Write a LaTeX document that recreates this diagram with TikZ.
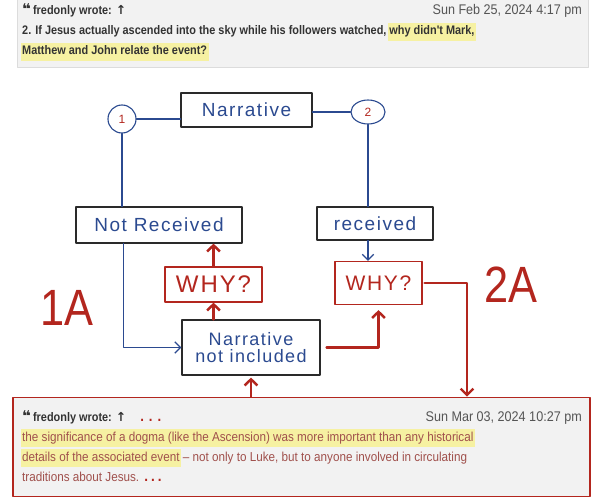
\documentclass[tikz,border=0pt]{standalone}
\usepackage{fontspec}
\setmainfont{Liberation Sans}
\newfontfamily\postfont[FakeStretch=0.88]{Liberation Sans}
\newfontfamily\quotefont[FakeStretch=0.9]{Liberation Sans}
\newfontfamily\symfont{DejaVu Sans}
\newfontfamily\handfont[LetterSpace=8]{Liberation Sans}
\newfontfamily\markfont[FakeStretch=0.85]{Liberation Sans}
\usetikzlibrary{arrows.meta,shapes.geometric}
\definecolor{ink}{HTML}{2B4A90}
\definecolor{pen}{HTML}{B3261E}
\definecolor{boxline}{HTML}{2A2A2A}
\definecolor{panel}{HTML}{F2F2F2}
\definecolor{rim}{HTML}{DCDCDC}
\definecolor{hlyellow}{HTML}{F6F1A2}
\definecolor{posttext}{HTML}{333333}
\definecolor{datetext}{HTML}{555555}
\definecolor{quotetext}{HTML}{A0504C}
\newcommand\hlite[1]{\hspace*{-1.5pt}{\setlength{\fboxsep}{1.5pt}\colorbox{hlyellow}{\strut #1}}\hspace*{-1.5pt}}
\newcommand\quoteicon{{\symfont\bfseries\fontsize{15}{15}\selectfont ❝}}

\begin{document}
\begin{tikzpicture}[x=1pt, y=-1pt, line cap=round, line join=round,
  sketch/.style={draw=boxline, line width=1.1pt, text=ink, font=\handfont\fontsize{19}{19}\selectfont},
  whybox/.style={draw=pen, line width=1.1pt, text=pen, font=\handfont\fontsize{24}{24}\selectfont},
  num/.style={ellipse, draw=ink, line width=1.1pt, text=pen, inner sep=0pt, font=\fontsize{12}{12}\selectfont},
  blueline/.style={draw=ink, line width=1.3pt},
  bluearrow/.style={blueline, -{Straight Barb[length=2mm,width=4mm]}},
  redarrow/.style={draw=pen, line width=2.4pt, -{Straight Barb[length=2.2mm,width=4.5mm]}},
  redmark/.style={text=pen, font=\markfont\fontsize{51}{51}\selectfont},
  boldtxt/.style={anchor=base west, inner sep=0pt, text=posttext, font=\postfont\bfseries\fontsize{12.4}{15}\selectfont},
  posttxt/.style={anchor=base west, inner sep=0pt, text=quotetext, font=\quotefont\fontsize{13}{15}\selectfont},
  postdate/.style={anchor=base east, inner sep=0pt, text=datetext, font=\quotefont\fontsize{14}{15}\selectfont}]
  \useasboundingbox (0,0) rectangle (595,500);
  \fill[white] (0,0) rectangle (595,500);

  % Question post.
  \filldraw[fill=panel, draw=rim, line width=0.6pt] (17,-2) rectangle (588,67);
  \node[boldtxt] (headtop) at (22,15) {\quoteicon\,fredonly wrote: {\symfont ↑}};
  \node[postdate] (datetop) at (582,15) {Sun Feb 25, 2024 4:17 pm};
  \node[boldtxt] (asktop) at (22,35) {2. If Jesus actually ascended into the sky while his followers watched, \hlite{why didn't Mark,}};
  \node[boldtxt] (askbot) at (22,55) {\hlite{Matthew and John relate the event?}};

  % Sketch boxes.
  \node[sketch, minimum width=131pt, minimum height=34pt] (narr) at (246.5,110) {Narrative};
  \node[num, minimum width=28pt, minimum height=28pt] (one) at (122,119) {1};
  \node[num, minimum width=34pt, minimum height=24pt] (two) at (368,112) {2};
  \node[sketch, minimum width=166pt, minimum height=36pt] (norec) at (159,225) {Not Received};
  \node[sketch, minimum width=116pt, minimum height=33pt] (rec) at (375,223.5) {received};
  \node[whybox, minimum width=97pt, minimum height=35pt] (whyl) at (213.5,284.5) {WHY?};
  \node[whybox, minimum width=87pt, minimum height=43pt, font=\handfont\fontsize{21}{21}\selectfont] (whyr) at (378.5,283) {WHY?};
  \node[sketch, minimum width=138pt, minimum height=55pt, align=center, font=\handfont\fontsize{18}{17}\selectfont] (nni) at (251,347.5) {Narrative\\not included};
  \node[redmark] (markone) at (67,308) {1A};
  \node[redmark] (marktwo) at (511,285) {2A};

  % Answer post.
  \node[draw=pen, fill=panel, line width=1.8pt, minimum width=577pt, minimum height=99pt] (reply) at (301.5,447) {};
  \node[boldtxt] (headbot) at (22,421) {\quoteicon\,fredonly wrote: {\symfont ↑}\hspace{14pt}\textcolor{pen}{\fontsize{15}{15}\selectfont .\hspace{5pt}.\hspace{5pt}.}};
  \node[postdate] (datebot) at (582,421) {Sun Mar 03, 2024 10:27 pm};
  \node[posttxt] (quoteone) at (22,441) {\hlite{the significance of a dogma (like the Ascension) was more important than any historical}};
  \node[posttxt] (quotetwo) at (22,461) {\hlite{details of the associated event} – not only to Luke, but to anyone involved in circulating};
  \node[posttxt] (quotethree) at (22,481) {traditions about Jesus.\hspace{5pt}\textcolor{pen}{\bfseries\fontsize{15}{15}\selectfont .\hspace{3pt}.\hspace{3pt}.}};

  % Branch 1.
  \draw[blueline] (one.east) -- (one.east -| narr.west);
  \draw[blueline] (one.south) -- (one.south |- norec.north);
  \draw[bluearrow] ([xshift=48pt]norec.south west) |- (nni.west);
  \draw[redarrow] (whyl.north) -- (whyl.north |- norec.south);
  \draw[redarrow] (whyl.south |- nni.north) -- (whyl.south);
  % Branch 2.
  \draw[blueline] (two.west -| narr.east) -- (two.west);
  \draw[blueline] (two.south) -- (two.south |- rec.north);
  \draw[bluearrow] (two.south |- rec.south) -- (two.south |- whyr.north);
  \draw[redarrow] ([xshift=6pt]nni.east) -| ([yshift=-5pt]whyr.south);
  \draw[redarrow] ([xshift=2pt]whyr.east) -| ([xshift=165.5pt]reply.north);
  \draw[redarrow] (nni.south |- reply.north) -- ([yshift=-2pt]nni.south);
\end{tikzpicture}
\end{document}
